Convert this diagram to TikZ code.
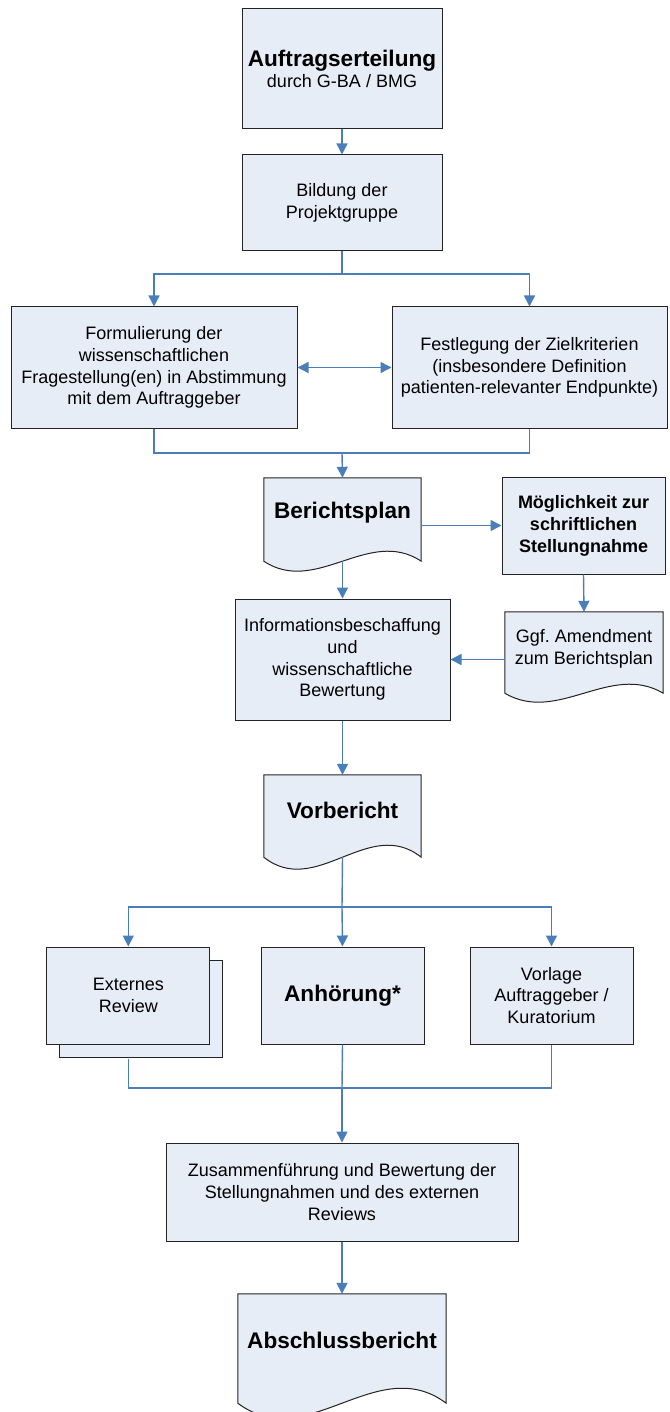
\documentclass[tikz,border=0pt]{standalone}
\usepackage{fontspec}
\setmainfont{Liberation Sans}
\usetikzlibrary{arrows.meta}
\usetikzlibrary{calc}
\usetikzlibrary{backgrounds}
\usetikzlibrary{shadows}

\definecolor{boxfill}{RGB}{231,237,247}
\definecolor{boxline}{RGB}{35,35,35}
\definecolor{linkblue}{RGB}{74,126,187}

% document shape: node, extra depth of the base, wave amplitude
\newcommand{\docform}[3]{%
  \coordinate (#1-b) at ($(#1.south)+(0,#2)$);
  \begin{scope}[on background layer]
    \filldraw[draw=boxline, fill=boxfill, line width=1pt]
      (#1.north west) -- (#1.north east) -- ($(#1.south east)+(0,#2)$)
      .. controls ($(#1.south east)!0.333!(#1.south west)+(0,#2-3.46*#3)$)
      and ($(#1.south east)!0.667!(#1.south west)+(0,#2+3.46*#3)$)
      .. ($(#1.south west)+(0,#2)$) -- cycle;
  \end{scope}}

\frenchspacing
\begin{document}
\begin{tikzpicture}[x=1pt, y=-1pt,
  box/.style={draw=boxline, fill=boxfill, line width=1pt, align=center,
    inner sep=2pt, font=\fontsize{18}{21.7}\selectfont},
  doc/.style={align=center, inner sep=2pt, font=\fontsize{18}{21.7}\selectfont},
  big/.style={font=\fontsize{22.6}{26}\selectfont\bfseries},
  link/.style={draw=linkblue, line width=1.4pt},
  arrow/.style={link, -{Triangle[width=11pt,length=11pt]}},
  twoway/.style={link, {Triangle[width=11pt,length=11pt]}-{Triangle[width=11pt,length=11pt]}}]
  \useasboundingbox (0,0) rectangle (669,1412);

  \node[box, minimum width=200pt, minimum height=120pt] (auftrag) at (342,69)
    {{\fontsize{22.6}{26}\selectfont\bfseries Auftragserteilung}\\durch G-BA / BMG};
  \node[box, minimum width=200pt, minimum height=96pt] (bildung) at (342,203)
    {Bildung der\\Projektgruppe};
  \node[box, minimum width=286pt, minimum height=121pt] (formul) at (154,367.5)
    {Formulierung der\\wissenschaftlichen\\Fragestellung(en) in Abstimmung\\mit dem Auftraggeber};
  \node[box, minimum width=275pt, minimum height=121pt] (festleg) at (529.5,367.5)
    {Festlegung der Zielkriterien\\(insbesondere Definition\\patienten-relevanter Endpunkte)};

  \node[doc, big, minimum width=157pt, minimum height=70pt] (bplan) at (342.5,513) {Berichtsplan};
  \docform{bplan}{13}{10}
  \node[box, font=\fontsize{18}{22}\selectfont\bfseries, minimum width=163pt, minimum height=97pt]
    (moeg) at (583.5,525.5) {Möglichkeit zur\\schriftlichen\\Stellungnahme};
  \node[doc, minimum width=158pt, minimum height=73pt] (amend) at (584,648.5)
    {Ggf. Amendment\\zum Berichtsplan};
  \docform{amend}{8}{9}
  \node[box, minimum width=215pt, minimum height=121pt] (info) at (342.5,659.5)
    {Informationsbeschaffung\\und\\wissenschaftliche\\Bewertung};

  \node[doc, big, minimum width=157pt, minimum height=70pt] (vorb) at (342.5,810) {Vorbericht};
  \docform{vorb}{12}{12}

  \node[box, minimum width=163pt, minimum height=97pt,
    copy shadow={shadow xshift=12.5pt, shadow yshift=-13.5pt, fill=boxfill, draw=boxline}]
    (ext) at (128.3,995.5) {Externes\\Review};
  \node[box, big, minimum width=163pt, minimum height=97pt] (anh) at (342.5,995.5) {Anhörung*};
  \node[box, minimum width=163pt, minimum height=97pt] (vorl) at (551.5,995.5)
    {Vorlage\\Auftraggeber /\\Kuratorium};

  \node[box, minimum width=352pt, minimum height=98pt] (zus) at (342,1192)
    {Zusammenführung und Bewertung der\\Stellungnahmen und des externen\\Reviews};
  \node[doc, big, minimum width=208pt, minimum height=92pt] (absch) at (342,1340) {Abschlussbericht};
  \docform{absch}{17}{15}

  \coordinate (split1) at (342,274);
  \coordinate (join1) at (342,453);
  \coordinate (split2) at (342,907);
  \coordinate (join2) at (342,1088);

  \draw[arrow] (auftrag) -- (bildung);
  \draw[link] (bildung.south) -- (split1);
  \draw[arrow] (split1) -| (formul.north);
  \draw[arrow] (split1) -| (festleg.north);
  \draw[twoway] (formul.east) -- (festleg.west);
  \draw[link] (formul.south) |- (join1) -| (festleg.south);
  \draw[arrow] (join1) -- (bplan.north);
  \draw[arrow] (bplan.east |- moeg.west) -- (moeg.west);
  \draw[arrow] (moeg.south) -- (amend.north);
  \draw[arrow] (amend.west |- info.east) -- (info.east);
  \draw[arrow] (bplan-b) -- (info.north);
  \draw[arrow] (info.south) -- (vorb.north);
  \draw[link] (vorb-b) -- (split2);
  \draw[arrow] (split2) -| (ext.north);
  \draw[arrow] (split2) -- (anh.north);
  \draw[arrow] (split2) -| (vorl.north);
  \draw[link] ($(ext.south)+(0,14)$) |- (join2) -| (vorl.south);
  \draw[link] (anh.south) -- (join2);
  \draw[arrow] (join2) -- (zus.north);
  \draw[arrow] (zus.south) -- (absch.north);
\end{tikzpicture}
\end{document}
